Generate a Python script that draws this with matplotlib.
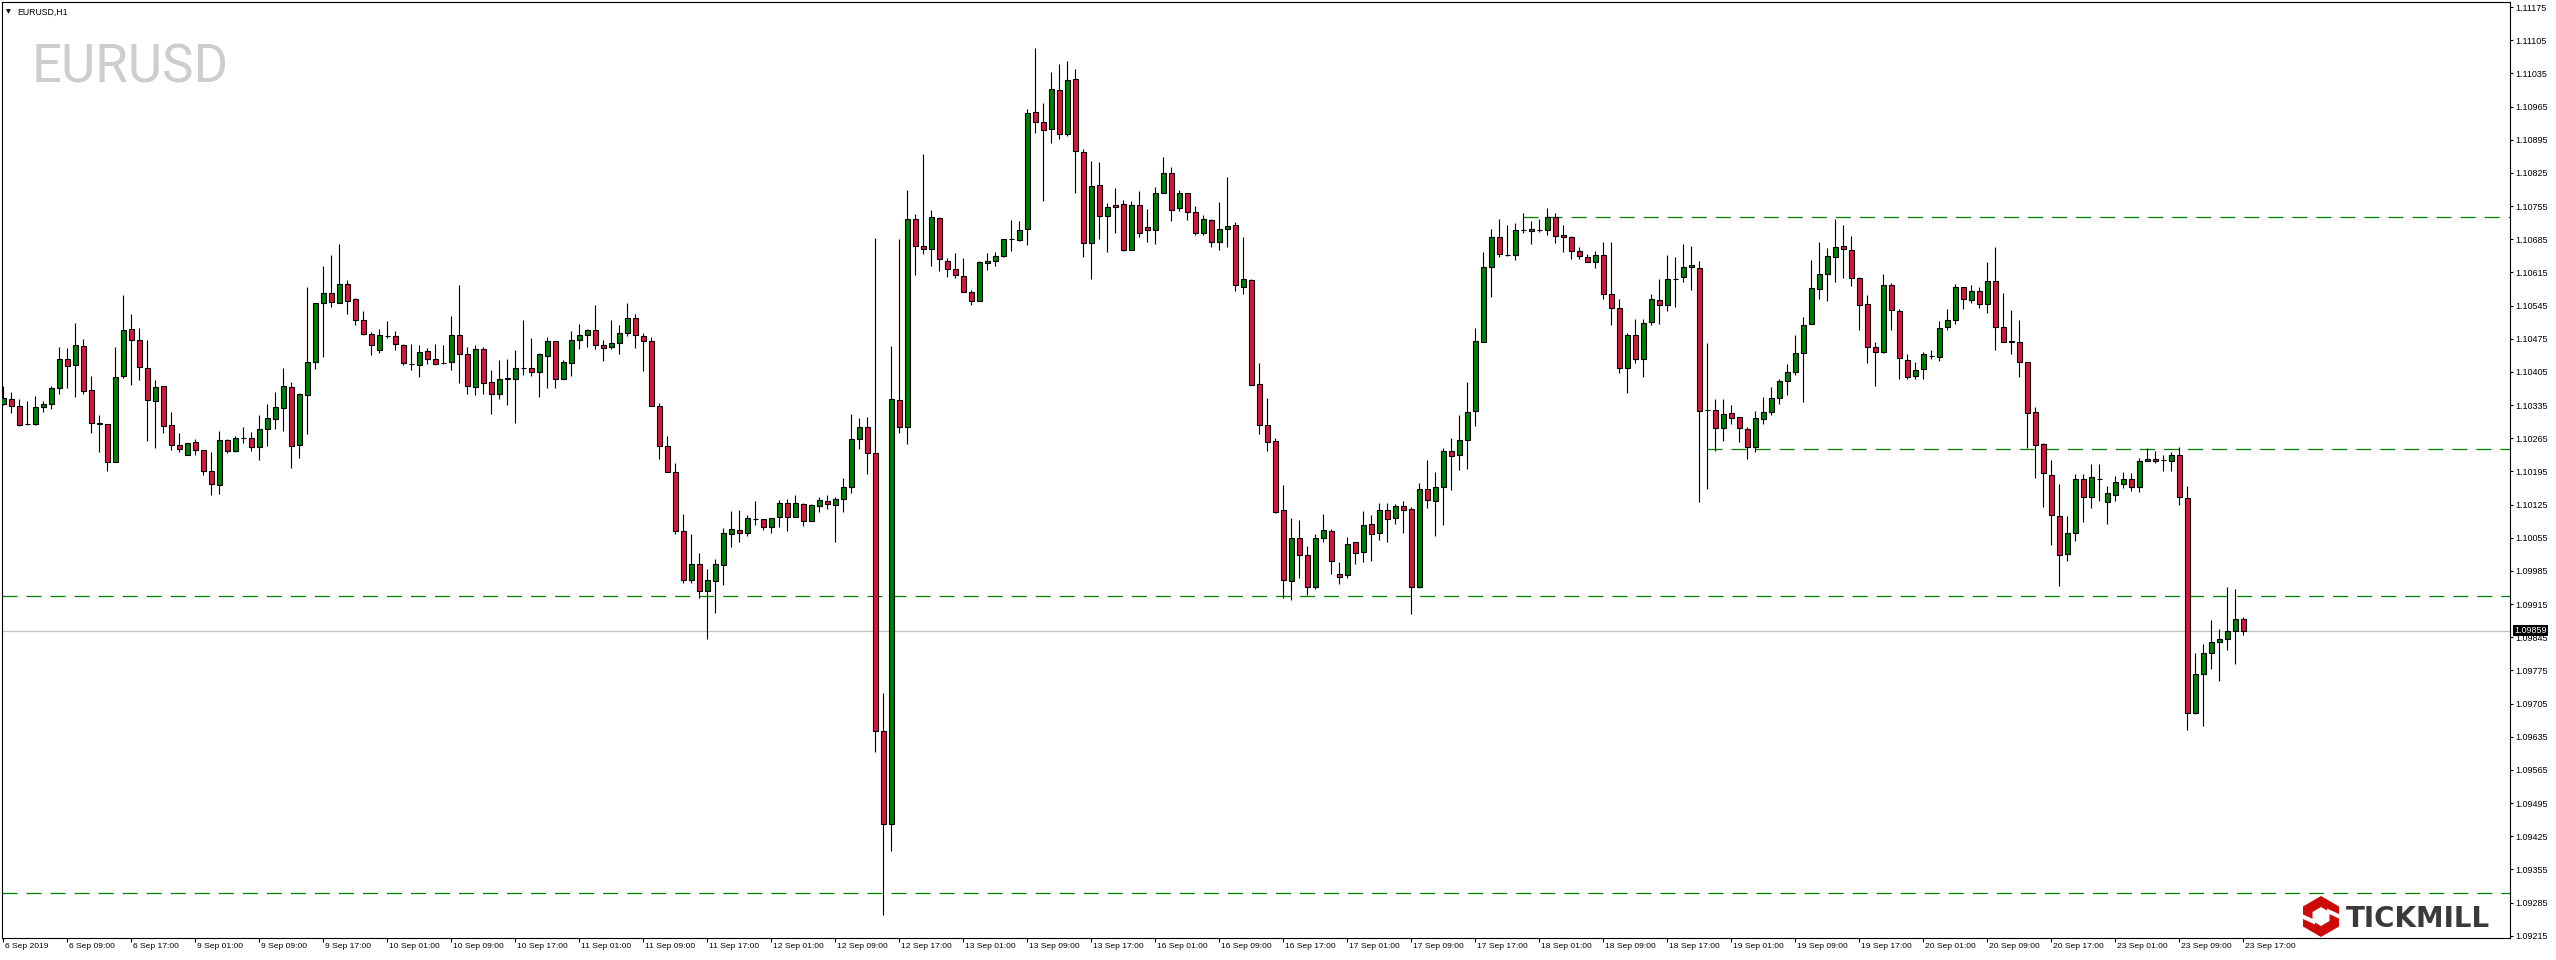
import matplotlib
matplotlib.use("Agg")
import matplotlib.pyplot as plt
import matplotlib.transforms as mtransforms
from matplotlib.path import Path
from matplotlib.patches import PathPatch, Polygon
import numpy as np

# ── Style ──────────────────────────────────────────────────────────────────────
W, H = 2556, 960
BULL = "#008000"
BEAR = "#dc143c"
LEVEL = "#008000"
PRICE_LINE = "#c0c0c0"
WATERMARK = "#cdcdcd"
LOGO_RED = "#cc0a0a"
LOGO_TEXT = "#3a3a3a"

plt.rcParams["font.family"] = ["Liberation Sans", "DejaVu Sans"]
plt.rcParams["lines.scale_dashes"] = False

# ── Data: EURUSD H1, 6 Sep 2019 01:00 .. 23 Sep 2019 17:00, prices in points (1e-5) ──
symbol = "EURUSD"
timeframe = "H1"
last_price = 1.09859

open_pts = [
    110337, 110347, 110333, 110294, 110294, 110331, 110337, 110371, 110432, 110419,
    110459, 110366, 110297, 110295, 110214, 110396, 110495, 110472, 110413, 110343,
    110375, 110293, 110250, 110229, 110257, 110240, 110196, 110166, 110261, 110238,
    110265, 110265, 110246, 110284, 110305, 110328, 110373, 110250, 110356, 110426,
    110550, 110571, 110550, 110590, 110558, 110514, 110485, 110451, 110480, 110480,
    110461, 110421, 110419, 110449, 110432, 110423, 110426, 110482, 110442, 110373,
    110454, 110383, 110358, 110393, 110391, 110413, 110413, 110404, 110439, 110470,
    110390, 110424, 110473, 110482, 110494, 110461, 110458, 110465, 110488, 110519,
    110481, 110470, 110334, 110248, 110194, 110069, 109965, 110000, 109942, 109963,
    109997, 110063, 110071, 110064, 110095, 110094, 110077, 110099, 110128, 110099,
    110127, 110091, 110121, 110133, 110124, 110137, 110163, 110263, 110288, 110234,
    109648, 109451, 110345, 110288, 110728, 110670, 110664, 110729, 110640, 110622,
    110608, 110573, 110555, 110634, 110638, 110650, 110686, 110684, 110707, 110953,
    110932, 110918, 110999, 110906, 111023, 110868, 110678, 110799, 110733, 110757,
    110759, 110663, 110757, 110710, 110704, 110782, 110824, 110750, 110782, 110742,
    110699, 110725, 110680, 110706, 110715, 110585, 110598, 110379, 110292, 110259,
    110113, 109964, 110054, 110018, 109950, 110054, 110069, 109978, 109976, 110046,
    110025, 110084, 110064, 110113, 110096, 110122, 110115, 109951, 110158, 110132,
    110162, 110238, 110229, 110261, 110322, 110468, 110626, 110689, 110652, 110651,
    110704, 110702, 110705, 110704, 110731, 110694, 110689, 110660, 110648, 110637,
    110651, 110569, 110539, 110413, 110483, 110432, 110510, 110556, 110546, 110601,
    110605, 110626, 110624, 110324, 110324, 110286, 110318, 110310, 110284, 110246,
    110305, 110320, 110350, 110385, 110404, 110445, 110506, 110580, 110611, 110647,
    110670, 110663, 110603, 110548, 110457, 110446, 110588, 110533, 110431, 110396,
    110411, 110439, 110436, 110500, 110514, 110584, 110557, 110575, 110548, 110596,
    110500, 110468, 110469, 110425, 110320, 110253, 110187, 110101, 110020, 110065,
    110180, 110141, 110180, 110130, 110146, 110169, 110179, 110163, 110216, 110221,
    110219, 110217, 110229, 110138, 109685, 109767, 109811, 109834, 109841, 109859, 109883,
]
high_pts = [
    110376, 110363, 110347, 110344, 110354, 110344, 110376, 110458, 110456, 110509,
    110475, 110397, 110314, 110296, 110458, 110568, 110528, 110498, 110473, 110388,
    110375, 110321, 110276, 110255, 110263, 110240, 110236, 110281, 110263, 110269,
    110289, 110278, 110314, 110338, 110363, 110414, 110384, 110360, 110584, 110550,
    110629, 110652, 110675, 110599, 110560, 110534, 110489, 110496, 110513, 110492,
    110463, 110464, 110462, 110456, 110464, 110462, 110523, 110589, 110458, 110462,
    110458, 110409, 110430, 110432, 110452, 110515, 110477, 110445, 110479, 110470,
    110431, 110492, 110506, 110496, 110546, 110473, 110515, 110504, 110551, 110528,
    110488, 110478, 110340, 110270, 110212, 110105, 110062, 110023, 109988, 110011,
    110075, 110111, 110114, 110103, 110132, 110094, 110097, 110134, 110137, 110145,
    110129, 110127, 110141, 110145, 110140, 110181, 110316, 110307, 110310, 110688,
    109727, 110460, 110685, 110789, 110739, 110865, 110747, 110731, 110645, 110656,
    110646, 110578, 110640, 110656, 110658, 110685, 110725, 110724, 110960, 111088,
    110973, 111038, 111055, 111061, 111045, 110875, 110850, 110848, 110761, 110793,
    110767, 110765, 110787, 110749, 110795, 110858, 110837, 110788, 110782, 110755,
    110736, 110727, 110764, 110817, 110721, 110690, 110601, 110424, 110350, 110265,
    110167, 110096, 110092, 110038, 110062, 110106, 110073, 110004, 110056, 110046,
    110111, 110103, 110128, 110129, 110127, 110133, 110120, 110171, 110219, 110194,
    110245, 110266, 110314, 110384, 110497, 110659, 110706, 110727, 110715, 110720,
    110741, 110724, 110728, 110751, 110741, 110714, 110692, 110668, 110653, 110660,
    110679, 110679, 110559, 110487, 110517, 110517, 110570, 110602, 110652, 110648,
    110675, 110671, 110639, 110466, 110348, 110348, 110335, 110310, 110288, 110323,
    110352, 110373, 110390, 110422, 110483, 110521, 110641, 110679, 110666, 110728,
    110715, 110692, 110605, 110567, 110468, 110612, 110592, 110537, 110443, 110426,
    110446, 110451, 110513, 110538, 110590, 110584, 110588, 110584, 110637, 110668,
    110571, 110535, 110514, 110425, 110330, 110255, 110219, 110169, 110100, 110190,
    110190, 110211, 110211, 110164, 110186, 110194, 110192, 110223, 110244, 110237,
    110229, 110236, 110247, 110165, 109812, 109831, 109881, 109862, 109952, 109947, 109888,
]
low_pts = [
    110335, 110319, 110290, 110292, 110292, 110321, 110326, 110359, 110370, 110353,
    110359, 110277, 110235, 110195, 110214, 110393, 110378, 110387, 110260, 110245,
    110277, 110241, 110235, 110229, 110229, 110187, 110146, 110148, 110233, 110236,
    110255, 110239, 110218, 110248, 110285, 110281, 110203, 110224, 110273, 110412,
    110437, 110541, 110550, 110528, 110505, 110482, 110440, 110444, 110476, 110452,
    110419, 110408, 110395, 110421, 110419, 110421, 110408, 110381, 110358, 110356,
    110358, 110317, 110347, 110336, 110297, 110398, 110396, 110352, 110372, 110370,
    110390, 110396, 110454, 110458, 110453, 110429, 110454, 110442, 110481, 110455,
    110406, 110334, 110221, 110194, 110063, 109959, 109959, 109927, 109842, 109896,
    109955, 110036, 110046, 110058, 110081, 110072, 110066, 110077, 110070, 110099,
    110080, 110091, 110110, 110115, 110046, 110109, 110149, 110242, 110189, 109602,
    109258, 109393, 110276, 110252, 110609, 110653, 110629, 110617, 110606, 110604,
    110573, 110547, 110555, 110621, 110629, 110647, 110661, 110682, 110672, 110910,
    110765, 110889, 110897, 110903, 110783, 110647, 110602, 110686, 110659, 110699,
    110661, 110663, 110689, 110680, 110674, 110782, 110724, 110745, 110725, 110693,
    110694, 110669, 110663, 110668, 110575, 110570, 110377, 110273, 110239, 110108,
    109927, 109923, 109970, 109935, 109946, 110046, 109978, 109958, 109970, 110000,
    110003, 110005, 110050, 110047, 110084, 110064, 109895, 109949, 110117, 110058,
    110081, 110155, 110197, 110201, 110290, 110468, 110562, 110648, 110650, 110642,
    110698, 110675, 110700, 110694, 110677, 110657, 110644, 110643, 110637, 110625,
    110558, 110505, 110402, 110360, 110423, 110394, 110503, 110506, 110533, 110542,
    110594, 110577, 110130, 110157, 110239, 110260, 110295, 110258, 110221, 110236,
    110295, 110314, 110338, 110357, 110398, 110341, 110506, 110558, 110554, 110594,
    110603, 110587, 110493, 110423, 110376, 110444, 110494, 110391, 110389, 110389,
    110391, 110433, 110429, 110494, 110506, 110537, 110550, 110539, 110530, 110452,
    110468, 110442, 110394, 110244, 110182, 110119, 110039, 109954, 110005, 110049,
    110089, 110118, 110133, 110083, 110133, 110161, 110153, 110151, 110216, 110212,
    110195, 110195, 110125, 109650, 109682, 109657, 109779, 109752, 109819, 109788, 109849,
]
close_pts = [
    110350, 110333, 110292, 110295, 110331, 110337, 110371, 110432, 110417, 110461,
    110364, 110297, 110295, 110214, 110394, 110493, 110472, 110415, 110345, 110373,
    110290, 110250, 110242, 110255, 110240, 110196, 110168, 110261, 110238, 110265,
    110265, 110246, 110284, 110307, 110331, 110375, 110248, 110358, 110426, 110550,
    110571, 110552, 110590, 110554, 110514, 110485, 110461, 110482, 110480, 110463,
    110423, 110421, 110447, 110432, 110421, 110423, 110482, 110442, 110376, 110454,
    110381, 110358, 110391, 110390, 110413, 110414, 110404, 110442, 110470, 110390,
    110425, 110473, 110482, 110494, 110461, 110456, 110465, 110487, 110519, 110482,
    110470, 110334, 110248, 110194, 110070, 109965, 110000, 109942, 109966, 110000,
    110065, 110074, 110064, 110097, 110095, 110077, 110097, 110128, 110099, 110128,
    110091, 110124, 110135, 110127, 110137, 110162, 110264, 110288, 110234, 109648,
    109451, 110347, 110288, 110728, 110670, 110664, 110731, 110643, 110622, 110609,
    110573, 110554, 110637, 110640, 110649, 110685, 110686, 110704, 110951, 110932,
    110915, 111002, 110908, 111021, 110871, 110678, 110797, 110733, 110753, 110753,
    110663, 110757, 110699, 110704, 110782, 110824, 110747, 110782, 110742, 110699,
    110727, 110680, 110706, 110712, 110588, 110601, 110378, 110292, 110257, 110110,
    109965, 110054, 110018, 109950, 110054, 110071, 110006, 109972, 110041, 110022,
    110082, 110063, 110113, 110094, 110122, 110113, 109951, 110158, 110134, 110162,
    110238, 110227, 110261, 110320, 110470, 110626, 110689, 110654, 110652, 110704,
    110704, 110706, 110705, 110731, 110691, 110689, 110660, 110649, 110637, 110651,
    110569, 110540, 110413, 110483, 110432, 110508, 110558, 110546, 110601, 110601,
    110626, 110630, 110322, 110324, 110286, 110316, 110307, 110286, 110246, 110307,
    110320, 110350, 110385, 110404, 110445, 110504, 110582, 110611, 110649, 110668,
    110664, 110603, 110546, 110457, 110446, 110588, 110535, 110434, 110394, 110408,
    110443, 110439, 110497, 110514, 110584, 110559, 110575, 110548, 110596, 110500,
    110468, 110471, 110425, 110318, 110251, 110191, 110102, 110018, 110065, 110179,
    110141, 110183, 110180, 110149, 110172, 110179, 110162, 110216, 110221, 110217,
    110219, 110229, 110141, 109685, 109767, 109811, 109834, 109841, 109858, 109883, 109859,
]

trading_days = ["6 Sep", "9 Sep", "10 Sep", "11 Sep", "12 Sep", "13 Sep",
                "16 Sep", "17 Sep", "18 Sep", "19 Sep", "20 Sep", "23 Sep"]
first_label = "6 Sep 2019"

# support / resistance levels and the bar where each one starts (None = whole chart)
level_prices = [1.10732, 1.10242, 1.09932, 1.09305]
level_start_bar = [190, 213, None, None]

y_ticks = np.round(np.arange(1.09215, 1.11176, 0.0007), 5)

o = np.array(open_pts) / 1e5
h = np.array(high_pts) / 1e5
l = np.array(low_pts) / 1e5
c = np.array(close_pts) / 1e5
n = len(o)
assert len(h) == len(l) == len(c) == n

# ── Figure ─────────────────────────────────────────────────────────────────────
fig = plt.figure(figsize=(W / 100, H / 100), dpi=100, facecolor="white")
ax = fig.add_axes([2 / W, 22 / H, 2508 / W, 936 / H], zorder=2)
ax.set_facecolor("white")

x = np.arange(n)
x_min, x_max = -0.16, 313.34
ax.set_xlim(x_min, x_max)
ax.set_ylim(1.092103, 1.111856)

# watermark + header
ax.text(0.012, 0.9145, symbol, transform=ax.transAxes, fontsize=38,
        family="Roboto", fontweight="normal", color=WATERMARK, va="baseline", ha="left", zorder=0)
ax.text(0.0024, 0.9893, "\u25bc", transform=ax.transAxes, fontsize=4.5,
        family="DejaVu Sans", color="black", va="center", ha="center")
ax.text(0.0062, 0.9893, f"{symbol},{timeframe}", transform=ax.transAxes, fontsize=6.3,
        color="black", va="center", ha="left")

# level lines
for price, start in zip(level_prices, level_start_bar):
    x0 = x_min if start is None else start
    ax.plot([x0, x_max], [price, price], color=LEVEL, lw=0.9, dashes=(10.8, 6.5), zorder=1)

ax.axhline(last_price, color=PRICE_LINE, lw=0.9, zorder=1)

# candles
colors = np.where(c >= o, BULL, BEAR)
ax.vlines(x, l, h, color="black", lw=0.8, zorder=2)
ax.bar(x, c - o, bottom=o, width=0.56, color=colors, edgecolor="black", linewidth=0.8, zorder=3)

# axes styling
for side, spine in ax.spines.items():
    spine.set_color("black")
    spine.set_linewidth(0.8)

ax.yaxis.tick_right()
ax.set_yticks(y_ticks)
ax.set_yticklabels([f"{v:.5f}" for v in y_ticks])
ax.tick_params(axis="y", direction="out", length=2.2, width=0.8, pad=1.6,
               labelsize=6.5, colors="black")

x_ticks = np.arange(0, n, 8)
x_labels = []
for i in x_ticks:
    day, hour = divmod(i + 1, 24)
    x_labels.append(first_label if i == 0 else f"{trading_days[day]} {hour:02d}:00")
ax.set_xticks(x_ticks)
ax.set_xticklabels(x_labels, ha="left")
ax.tick_params(axis="x", direction="out", length=2.9, width=0.8, pad=1.0,
               labelsize=6.1, colors="black")
shift = mtransforms.ScaledTranslation(1.5 / 100, 0, fig.dpi_scale_trans)
for lab in ax.get_xticklabels():
    lab.set_transform(lab.get_transform() + shift)

# current price tag
tag_tr = mtransforms.blended_transform_factory(ax.transAxes, ax.transData)
ax.text(1.0018, last_price, f"{last_price:.5f}", transform=tag_tr, fontsize=6.5,
        color="white", va="center", ha="left", clip_on=False, zorder=10,
        bbox=dict(boxstyle="square,pad=0.12", fc="black", ec="none"))

# ── Tickmill logo (pixel overlay) ──────────────────────────────────────────────
fg = fig.add_axes([0, 0, 1, 1], zorder=5)
fg.set_xlim(0, W)
fg.set_ylim(H, 0)
fg.axis("off")
fg.patch.set_alpha(0)

cx, cy = 2321, 916.5
outer = [(cx, cy - 20.5), (cx + 18, cy - 10), (cx + 18, cy + 10),
         (cx, cy + 20.5), (cx - 18, cy + 10), (cx - 18, cy - 10), (cx, cy - 20.5)]
inner = [(cx, cy - 9.5), (cx - 8.5, cy - 4.5), (cx - 8.5, cy + 4.5),
         (cx, cy + 9.5), (cx + 8.5, cy + 4.5), (cx + 8.5, cy - 4.5), (cx, cy - 9.5)]
codes = [Path.MOVETO] + [Path.LINETO] * 5 + [Path.CLOSEPOLY]
ring = Path(outer + inner, codes + codes)
fg.add_patch(PathPatch(ring, fc=LOGO_RED, ec="none"))
fg.add_patch(Polygon([(cx + 6, cy - 8), (cx + 19, cy - 2), (cx + 19, cy + 2.5), (cx + 6, cy - 3.5)],
                     closed=True, fc="white", ec="none"))
fg.add_patch(Polygon([(cx - 6, cy + 8), (cx - 19, cy + 2), (cx - 19, cy - 2.5), (cx - 6, cy + 3.5)],
                     closed=True, fc="white", ec="none"))
fg.text(2346, 927, "TICKMILL", fontsize=20, fontweight="bold", family="DejaVu Sans",
        color=LOGO_TEXT, ha="left", va="baseline")

fig.savefig("out.png", dpi=100, facecolor="white")
plt.close(fig)
